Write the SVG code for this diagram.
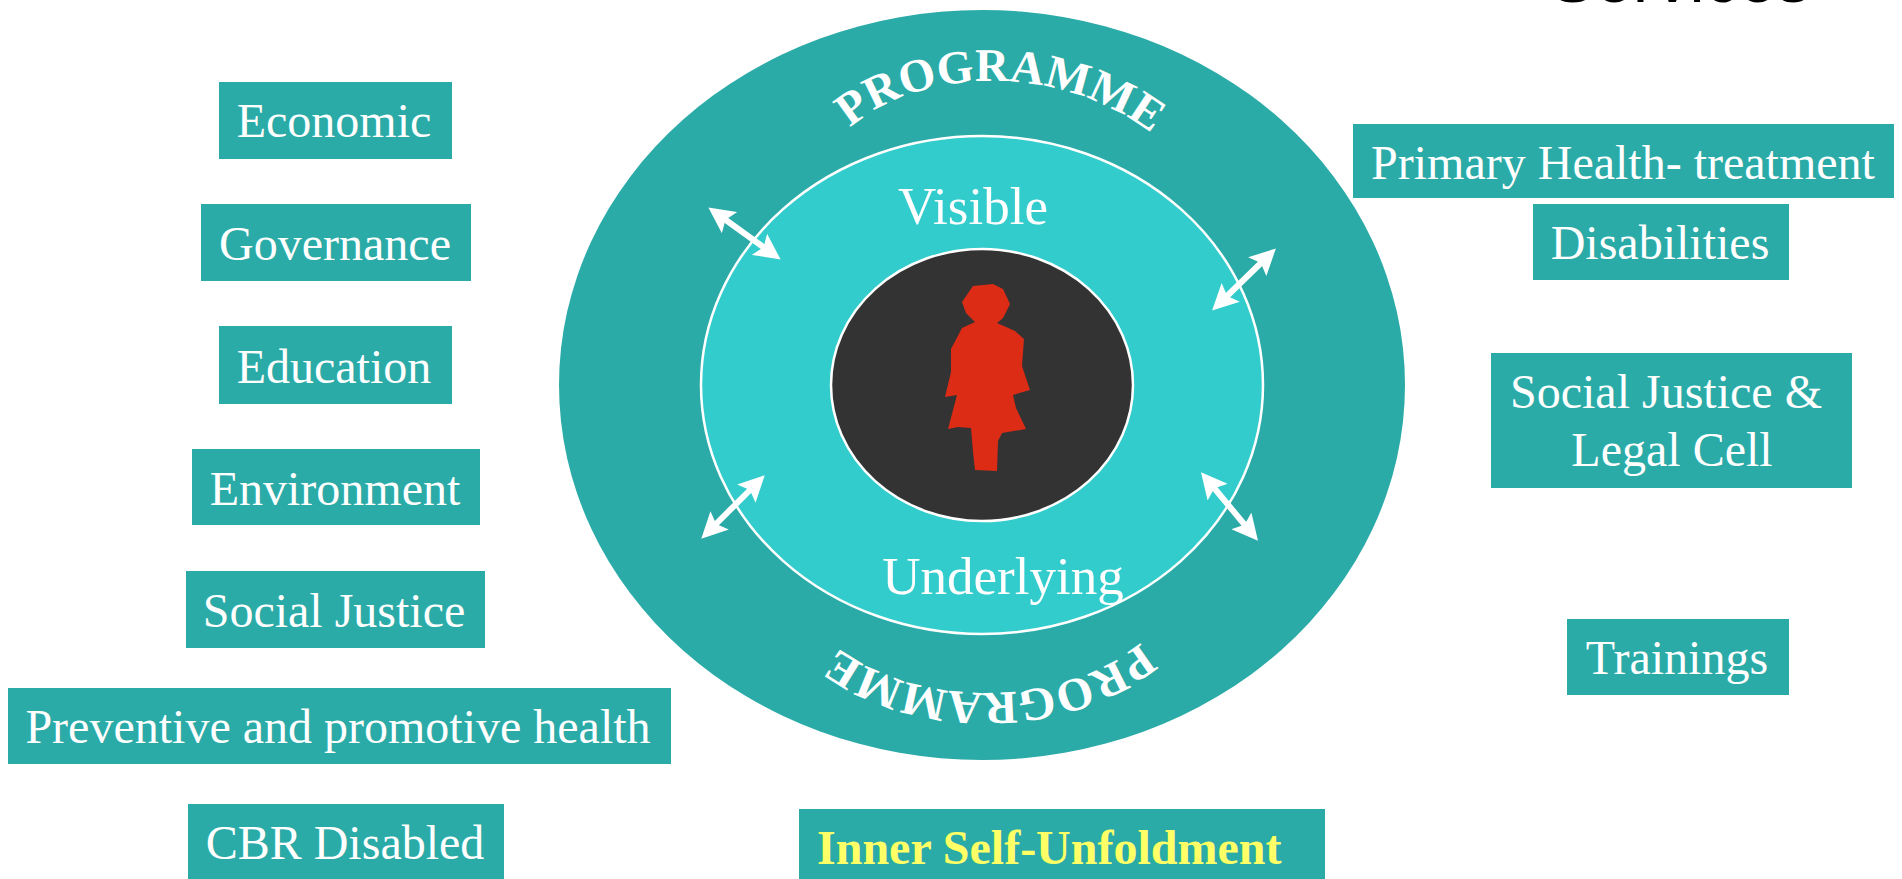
<svg xmlns="http://www.w3.org/2000/svg" width="1902" height="879" viewBox="0 0 1902 879">
<style>
.box{fill:#2BABA8}
.t{font-family:"Liberation Serif","Times New Roman",serif;font-size:48px;fill:#fff;text-anchor:middle}
.b{font-size:53px}
.y{font-weight:bold;fill:#FFFF66;text-anchor:start}
.c{font-family:"Liberation Serif","Times New Roman",serif;font-size:47px;font-weight:bold;fill:#fff}
.a{stroke:#fff;stroke-width:6;fill:none;marker-start:url(#h);marker-end:url(#h)}
</style>
<defs>
<marker id="h" markerUnits="userSpaceOnUse" markerWidth="26" markerHeight="26" refX="8" refY="13" orient="auto-start-reverse"><path d="M0 0L26 13L0 26L5 13Z" fill="#fff"/></marker>
<path id="topArc" d="M850 128C924 64 1064 64 1155 136L1179 156"/>
<path id="botArc" d="M1141 642C1060 709 920 709 837 647L815 630"/>
</defs>
<rect width="1902" height="879" fill="#fff"/>
<text x="1680" y="1.5" style="font-family:'Liberation Sans',Arial,sans-serif;font-size:68px;fill:#000;text-anchor:middle">Services</text>
<g id="outer-ring"><ellipse cx="982" cy="385" rx="423" ry="375" fill="#2BABA8"/>
<text class="c"><textPath href="#topArc">PROGRAMME</textPath></text>
<text class="c"><textPath href="#botArc">PROGRAMME</textPath></text></g>
<g id="middle-ring"><ellipse cx="982" cy="385" rx="281" ry="249" fill="#33CCCC" stroke="#fff" stroke-width="2.5"/>
<text class="t b" x="973" y="224">Visible</text><text class="t b" x="1003" y="594">Underlying</text></g>
<g id="core"><ellipse cx="982" cy="385" rx="151" ry="136" fill="#333" stroke="#fff" stroke-width="2.5"/>
<polygon fill="#DD2C16" points="973,286 993,284 1003,289 1010,304 1003,318 997,323 1015,331 1024,339 1022,366 1030,390 1013,395 1016,408 1026,429 1002,433 998,441 997,471 975,470 973,452 971,428 958,427 948,429 957,395 945,397 951,372 951,349 962,328 975,322 966,313 962,302"/></g>
<g id="connectors">
<line class="a" x1="723" y1="218" x2="766" y2="249"/>
<line class="a" x1="1263" y1="261" x2="1225" y2="298"/>
<line class="a" x1="752" y1="488" x2="714" y2="526"/>
<line class="a" x1="1212.5" y1="486" x2="1246.5" y2="527"/>
</g>
<g id="economic"><rect class="box" x="219" y="82" width="233" height="77"/><text class="t" x="334" y="137">Economic</text></g>
<g id="governance"><rect class="box" x="201" y="204" width="270" height="77"/><text class="t" x="335" y="260">Governance</text></g>
<g id="education"><rect class="box" x="219" y="326" width="233" height="78"/><text class="t" x="334" y="383">Education</text></g>
<g id="environment"><rect class="box" x="192" y="449" width="288" height="76"/><text class="t" x="335" y="505">Environment</text></g>
<g id="social-justice"><rect class="box" x="186" y="571" width="299" height="77"/><text class="t" x="334" y="627">Social Justice</text></g>
<g id="preventive"><rect class="box" x="8" y="688" width="663" height="76"/><text class="t" x="338" y="743">Preventive and promotive health</text></g>
<g id="cbr"><rect class="box" x="188" y="804" width="316" height="75"/><text class="t" x="345" y="859">CBR Disabled</text></g>
<g id="inner-self"><rect class="box" x="799" y="809" width="526" height="70"/><text class="t y" x="817" y="864">Inner Self-Unfoldment</text></g>
<g id="primary-health"><rect class="box" x="1353" y="124" width="541" height="74"/><text class="t" x="1623" y="179">Primary Health- treatment</text></g>
<g id="disabilities"><rect class="box" x="1533" y="204" width="256" height="76"/><text class="t" x="1660" y="259">Disabilities</text></g>
<g id="legal-cell"><rect class="box" x="1491" y="353" width="361" height="135"/><text class="t" x="1666" y="408">Social Justice &amp;</text><text class="t" x="1672" y="466">Legal Cell</text></g>
<g id="trainings"><rect class="box" x="1567" y="619" width="222" height="76"/><text class="t" x="1677" y="674">Trainings</text></g>
</svg>
